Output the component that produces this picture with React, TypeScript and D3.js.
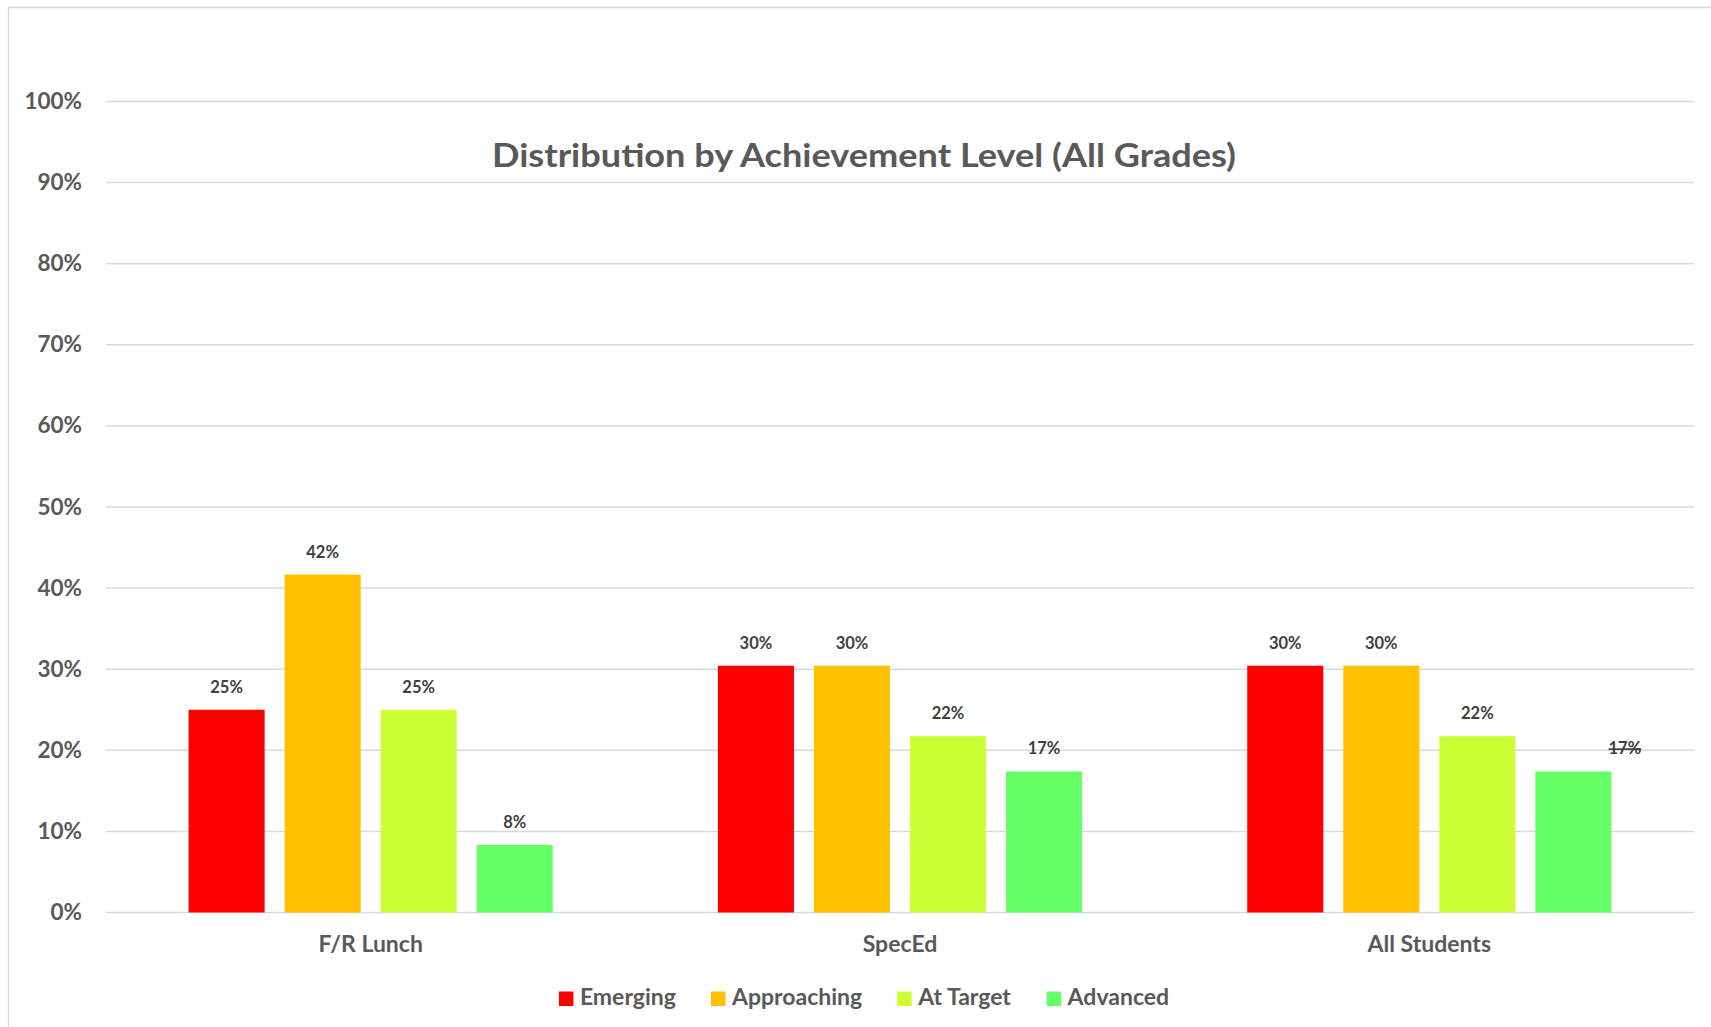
import React from "react";
import * as d3 from "d3";

const categories = ["F/R Lunch", "SpecEd", "All Students"];
const seriesNames = ["Emerging", "Approaching", "At Target", "Advanced"];
const seriesColors = ["#FF0000", "#FFC000", "#CCFF33", "#66FF66"];
const emerging = [25, 30.43, 30.43];
const approaching = [41.67, 30.43, 30.43];
const atTarget = [25, 21.74, 21.74];
const advanced = [8.33, 17.39, 17.39];
const seriesValues = [emerging, approaching, atTarget, advanced];
const yTicks = [0, 10, 20, 30, 40, 50, 60, 70, 80, 90, 100];
const title = "Distribution by Achievement Level (All Grades)";

const W = 1711;
const H = 1027;
const FONT = "Lato, 'Noto Sans', sans-serif";
const plot = { left: 106, right: 1694, top: 101.5, bottom: 912.5 };
const chartCenterX = 864;

function measure(text: string, font: string): number {
  const c = document.createElement("canvas").getContext("2d");
  if (!c) return text.length * 10;
  c.font = font;
  return c.measureText(text).width;
}

export default function App() {
  const y = d3.scaleLinear().domain([0, 100]).range([plot.bottom, plot.top]);
  const x0 = d3.scaleBand<string>().domain(categories).range([plot.left, plot.right]).padding(0);
  const outerGap = x0.bandwidth() * 0.156;
  const x1 = d3
    .scaleBand<string>()
    .domain(seriesNames)
    .range([outerGap, x0.bandwidth() - outerGap])
    .paddingInner(0.208)
    .paddingOuter(0);

  const legendFontSize = 23;
  const legendFont = `bold ${legendFontSize}px Lato`;
  const sq = 14.5;
  const sqGap = 6.5;
  const itemGap = 35;
  const widths = seriesNames.map((s) => measure(s, legendFont));
  const total = widths.reduce((a, w) => a + sq + sqGap + w, 0) + itemGap * (seriesNames.length - 1);
  let lx = chartCenterX - total / 2;
  const legendItems = seriesNames.map((s, i) => {
    const item = { name: s, color: seriesColors[i], x: lx };
    lx += sq + sqGap + widths[i] + itemGap;
    return item;
  });

  return (
    <svg
      width={W}
      height={H}
      style={{ position: "absolute", left: 0, top: 0, background: "#fff" }}
      fontFamily={FONT}
    >
      <rect x={0} y={0} width={W} height={H} fill="#fff" />
      {/* chart border (top and left visible) */}
      <line x1={8.5} y1={7.5} x2={W} y2={7.5} stroke="#d9d9d9" strokeWidth={1.5} />
      <line x1={8.5} y1={7.5} x2={8.5} y2={H} stroke="#d9d9d9" strokeWidth={1.5} />

      {/* gridlines */}
      {yTicks.map((t) => (
        <line
          key={`g${t}`}
          x1={plot.left}
          x2={plot.right}
          y1={y(t)}
          y2={y(t)}
          stroke="#d9d9d9"
          strokeWidth={1.5}
        />
      ))}
      {/* y labels */}
      {yTicks.map((t) => (
        <text
          key={`yl${t}`}
          x={82}
          y={y(t) + 7.5}
          textAnchor="end"
          fontSize={22.5}
          fontWeight="bold"
          fill="#595959"
        >
          {`${t}%`}
        </text>
      ))}

      {/* title */}
      <text
        x={chartCenterX}
        y={167}
        textAnchor="middle"
        fontSize={33}
        fontWeight="bold"
        fill="#595959"
        textLength={744}
        lengthAdjust="spacingAndGlyphs"
      >
        {title}
      </text>

      {/* bars */}
      {categories.map((cat, ci) => (
        <g key={cat} transform={`translate(${x0(cat)},0)`}>
          {seriesNames.map((s, si) => {
            const v = seriesValues[si][ci];
            const bx = x1(s) as number;
            return (
              <rect
                key={s}
                x={bx}
                y={y(v)}
                width={x1.bandwidth()}
                height={y(0) - y(v)}
                fill={seriesColors[si]}
              />
            );
          })}
        </g>
      ))}

      {/* data labels */}
      {categories.map((cat, ci) => (
        <g key={`l${cat}`} transform={`translate(${x0(cat)},0)`}>
          {seriesNames.map((s, si) => {
            const v = seriesValues[si][ci];
            const special = ci === categories.length - 1 && si === seriesNames.length - 1;
            const cx = (x1(s) as number) + x1.bandwidth() / 2 + (special ? 51.5 : 0);
            return (
              <text
                key={s}
                x={cx}
                y={y(v) - 17}
                textAnchor="middle"
                fontSize={16.5}
                fontWeight="bold"
                fill="#404040"
                style={special ? { textDecoration: "line-through" } : undefined}
              >
                {`${Math.round(v)}%`}
              </text>
            );
          })}
        </g>
      ))}

      {/* category labels */}
      {categories.map((cat) => (
        <text
          key={`c${cat}`}
          x={(x0(cat) as number) + x0.bandwidth() / 2}
          y={952}
          textAnchor="middle"
          fontSize={23}
          fontWeight="bold"
          fill="#595959"
        >
          {cat}
        </text>
      ))}

      {/* legend */}
      {legendItems.map((it) => (
        <g key={`lg${it.name}`}>
          <rect x={it.x} y={991.5} width={sq} height={sq} fill={it.color} />
          <text
            x={it.x + sq + sqGap}
            y={1005}
            fontSize={legendFontSize}
            fontWeight="bold"
            fill="#595959"
          >
            {it.name}
          </text>
        </g>
      ))}
    </svg>
  );
}
